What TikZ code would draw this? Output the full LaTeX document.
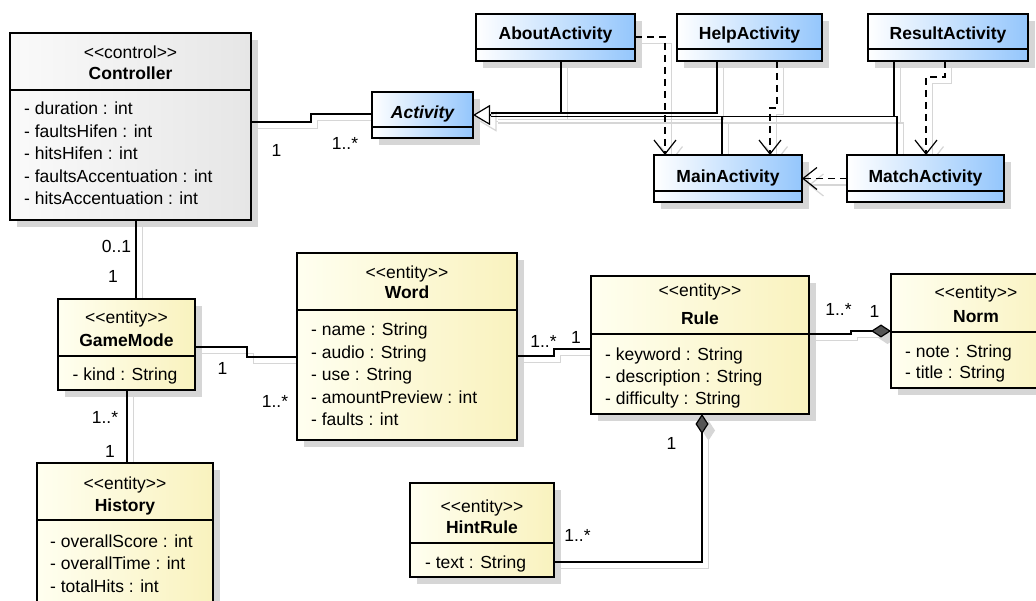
\documentclass[tikz,border=0pt]{standalone}
\usepackage{fontspec}
\setmainfont{Liberation Sans}
\usetikzlibrary{arrows.meta,fit}
\pgfdeclarelayer{back}
\pgfdeclarelayer{shadow}
\pgfdeclarelayer{links}
\pgfsetlayers{back,shadow,links,main}

\definecolor{actblue}{RGB}{148,198,252}
\definecolor{entlight}{RGB}{255,255,240}
\definecolor{entdark}{RGB}{249,242,190}
\definecolor{ctrllight}{RGB}{250,250,250}
\definecolor{ctrldark}{RGB}{230,230,230}
\definecolor{shadowgray}{RGB}{214,214,214}
\definecolor{compgray}{RGB}{85,85,85}

\newcommand\stereo[1]{<\kern0pt<#1>\kern0pt>}

\tikzset{
  x=1pt, y=-1pt,
  box/.style={draw=black, line width=2.6pt, inner sep=0pt, outer sep=0pt},
  ctrlfill/.style={left color=ctrllight, right color=ctrldark},
  actfill/.style={left color=white, right color=actblue},
  entfill/.style={left color=entlight, right color=entdark},
  sepline/.style={line width=1.3pt},
  txt/.style={inner sep=0pt, anchor=base, font=\fontsize{17.5}{21}\selectfont},
  cname/.style={txt, font=\fontsize{17.5}{21}\selectfont\bfseries},
  aname/.style={txt, font=\fontsize{17.5}{21}\selectfont\bfseries\itshape},
  attr/.style={txt, anchor=base west},
  mult/.style={txt},
}

% name, x1, y1, x2, y2, separator y, fill style
\newcommand\umlbox[7]{%
  \begin{pgfonlayer}{shadow}\fill[shadowgray] (#2+7,#3+7) rectangle (#4+7,#5+7);\end{pgfonlayer}
  \node[box,#7,fit={(#2,#3) (#4,#5)}] (#1) {};
  \draw[sepline] (#1.west |- 0,#6) -- (#1.east |- 0,#6);
}

\newcommand\links{%
  % associations
  \draw[ln] (ctrl.east |- 0,122) -- (311,122) -- (311,114) -- (act.west |- 0,114);
  \draw[ln] (ctrl.south -| 136,0) -- (gm.north -| 136,0);
  \draw[ln] (gm.south -| 127,0) -- (hist.north -| 127,0);
  \draw[ln] (gm.east |- 0,347) -- (247,347) -- (247,357) -- (word.west |- 0,357);
  \draw[ln] (word.east |- 0,356) -- (554,356) -- (554,349) -- (rule.west |- 0,349);
  \draw[ln, comp] (rule.east |- 0,334) -- (851,334) -- (851,331) -- (norm.west |- 0,331);
  \draw[ln, compstart] (rule.south -| 702,0) -- (702,562) -- (hint.east |- 0,562);
  % generalizations
  \draw[ln, gen] (gb) -- (act.east);
  \draw[ln] (about.south -| 561,0) -- (561,113) -- (gb |- 0,113);
  \draw[ln] (help.south -| 717,0) -- (717,113) -- (gb |- 0,113);
  \draw[ln] (main.north -| 722,0) -- (722,116.5) -- (gb |- 0,116.5);
  \draw[ln] (result.south -| 894,0) -- (894,116.5) -- (gb |- 0,116.5);
  \draw[ln] (match.north -| 897,0) -- (897,116.5) -- (gb |- 0,116.5);
  % dependencies
  \draw[ln, dep] (about.east |- 0,37) -- (665,37) -- (main.north -| 665,0);
  \draw[ln, dep] (help.south -| 777,0) -- (777,108) -- (770,108) -- (main.north -| 770,0);
  \draw[ln, dep] (result.south -| 945,0) -- (945,77) -- (926,77) -- (match.north -| 926,0);
  \draw[ln, dep] (match.west) -- (main.east);
}

\begin{document}
\begin{tikzpicture}
\begin{pgfonlayer}{back}
  \fill[white] (0,0) rectangle (1036,601);
\end{pgfonlayer}
\useasboundingbox (0,0) rectangle (1036,601);

% ---------- boxes ----------
\umlbox{ctrl}{10}{33}{251}{220}{90}{ctrlfill}
\umlbox{act}{372}{92}{473}{138}{127}{actfill}
\umlbox{about}{476}{14}{635}{61}{49}{actfill}
\umlbox{help}{677}{14}{822}{61}{49}{actfill}
\umlbox{result}{868}{14}{1028}{61}{49}{actfill}
\umlbox{main}{654}{155}{802}{202}{191}{actfill}
\umlbox{match}{847}{155}{1004}{202}{191}{actfill}
\umlbox{gm}{58}{299}{195}{390}{356}{entfill}
\umlbox{hist}{37}{463}{213}{612}{520}{entfill}
\umlbox{word}{297}{253}{517}{440}{310}{entfill}
\umlbox{rule}{591}{276}{809}{414}{334}{entfill}
\umlbox{norm}{891}{274}{1061}{388}{332}{entfill}
\umlbox{hint}{410}{483}{554}{577}{543}{entfill}

% ---------- texts ----------
\node[txt]   (ctrl-st) at (130.5,59) {\stereo{control}};
\node[cname] (ctrl-nm) at (130.5,80) {Controller};
\node[attr] (ctrl-a1) at (24,115)   {- duration : int};
\node[attr] (ctrl-a2) at (24,137.5) {- faultsHifen : int};
\node[attr] (ctrl-a3) at (24,160)   {- hitsHifen : int};
\node[attr] (ctrl-a4) at (24,182.5) {- faultsAccentuation : int};
\node[attr] (ctrl-a5) at (24,205)   {- hitsAccentuation : int};

\node[aname] (act-nm)    at (422.5,118.5) {Activity};
\node[cname] (about-nm)  at (555.5,40) {AboutActivity};
\node[cname] (help-nm)   at (749.5,40) {HelpActivity};
\node[cname] (result-nm) at (948,40)   {ResultActivity};
\node[cname] (main-nm)   at (728,182.5) {MainActivity};
\node[cname] (match-nm)  at (925.5,182.5) {MatchActivity};

\node[txt]   (gm-st) at (126.5,324) {\stereo{entity}};
\node[cname] (gm-nm) at (126.5,347) {GameMode};
\node[attr]  (gm-a1) at (72.5,381) {- kind : String};

\node[txt]   (hist-st) at (125,489) {\stereo{entity}};
\node[cname] (hist-nm) at (125,511) {History};
\node[attr]  (hist-a1) at (50,547) {- overallScore : int};
\node[attr]  (hist-a2) at (50,569) {- overallTime : int};
\node[attr]  (hist-a3) at (50,592) {- totalHits : int};

\node[txt]   (word-st) at (407,279) {\stereo{entity}};
\node[cname] (word-nm) at (407,299) {Word};
\node[attr]  (word-a1) at (311,336)   {- name : String};
\node[attr]  (word-a2) at (311,358.5) {- audio : String};
\node[attr]  (word-a3) at (311,381)   {- use : String};
\node[attr]  (word-a4) at (311,403)   {- amountPreview : int};
\node[attr]  (word-a5) at (311,425.5) {- faults : int};

\node[txt]   (rule-st) at (700,297) {\stereo{entity}};
\node[cname] (rule-nm) at (700,325) {Rule};
\node[attr]  (rule-a1) at (605,361)   {- keyword : String};
\node[attr]  (rule-a2) at (605,382.5) {- description : String};
\node[attr]  (rule-a3) at (605,404)   {- difficulty : String};

\node[txt]   (norm-st) at (976,299) {\stereo{entity}};
\node[cname] (norm-nm) at (976,323) {Norm};
\node[attr]  (norm-a1) at (905,357.5) {- note : String};
\node[attr]  (norm-a2) at (905,379)   {- title : String};

\node[txt]   (hint-st) at (482,512) {\stereo{entity}};
\node[cname] (hint-nm) at (482,533) {HintRule};
\node[attr]  (hint-a1) at (425,568.5) {- text : String};

% ---------- connectors ----------
\coordinate (gb) at (491,115);

\begin{pgfonlayer}{shadow}
\begin{scope}[transform canvas={shift={(6.5pt,-6.5pt)}},
  ln/.style={line width=1.2pt, draw=shadowgray},
  dep/.style={-{Straight Barb[length=14pt,width=22pt]}},
  gen/.style={-{Triangle[length=17pt,width=20pt,fill=white]}},
  comp/.style={-{Diamond[length=20pt,width=13pt,fill=shadowgray]}},
  compstart/.style={{Diamond[length=20pt,width=13pt,fill=shadowgray]}-}]
  \links
\end{scope}
\end{pgfonlayer}

\begin{pgfonlayer}{links}
\begin{scope}[
  ln/.style={line width=1.2pt, draw=black},
  dep/.style={dash pattern=on 7pt off 5pt, -{Straight Barb[length=14pt,width=22pt]}},
  gen/.style={-{Triangle[length=17pt,width=20pt,fill=white]}},
  comp/.style={-{Diamond[length=20pt,width=13pt,fill=compgray]}},
  compstart/.style={{Diamond[length=20pt,width=13pt,fill=compgray]}-}]
  \links
\end{scope}
\end{pgfonlayer}

% ---------- multiplicities ----------
\node[mult] (m1)  at (276.5,156.5) {1};
\node[mult] (m2)  at (345,150)     {1..*};
\node[mult] (m3)  at (116.5,252.5) {0..1};
\node[mult] (m4)  at (113,282.5)   {1};
\node[mult] (m5)  at (105,424)     {1..*};
\node[mult] (m6)  at (110,457)     {1};
\node[mult] (m7)  at (222.5,374)   {1};
\node[mult] (m8)  at (275,407.5)   {1..*};
\node[mult] (m9)  at (543.5,347.5) {1..*};
\node[mult] (m10) at (576,344)     {1};
\node[mult] (m11) at (838.5,316)   {1..*};
\node[mult] (m12) at (874.5,317.5) {1};
\node[mult] (m13) at (671.5,449)   {1};
\node[mult] (m14) at (577.5,541)   {1..*};
\end{tikzpicture}
\end{document}
